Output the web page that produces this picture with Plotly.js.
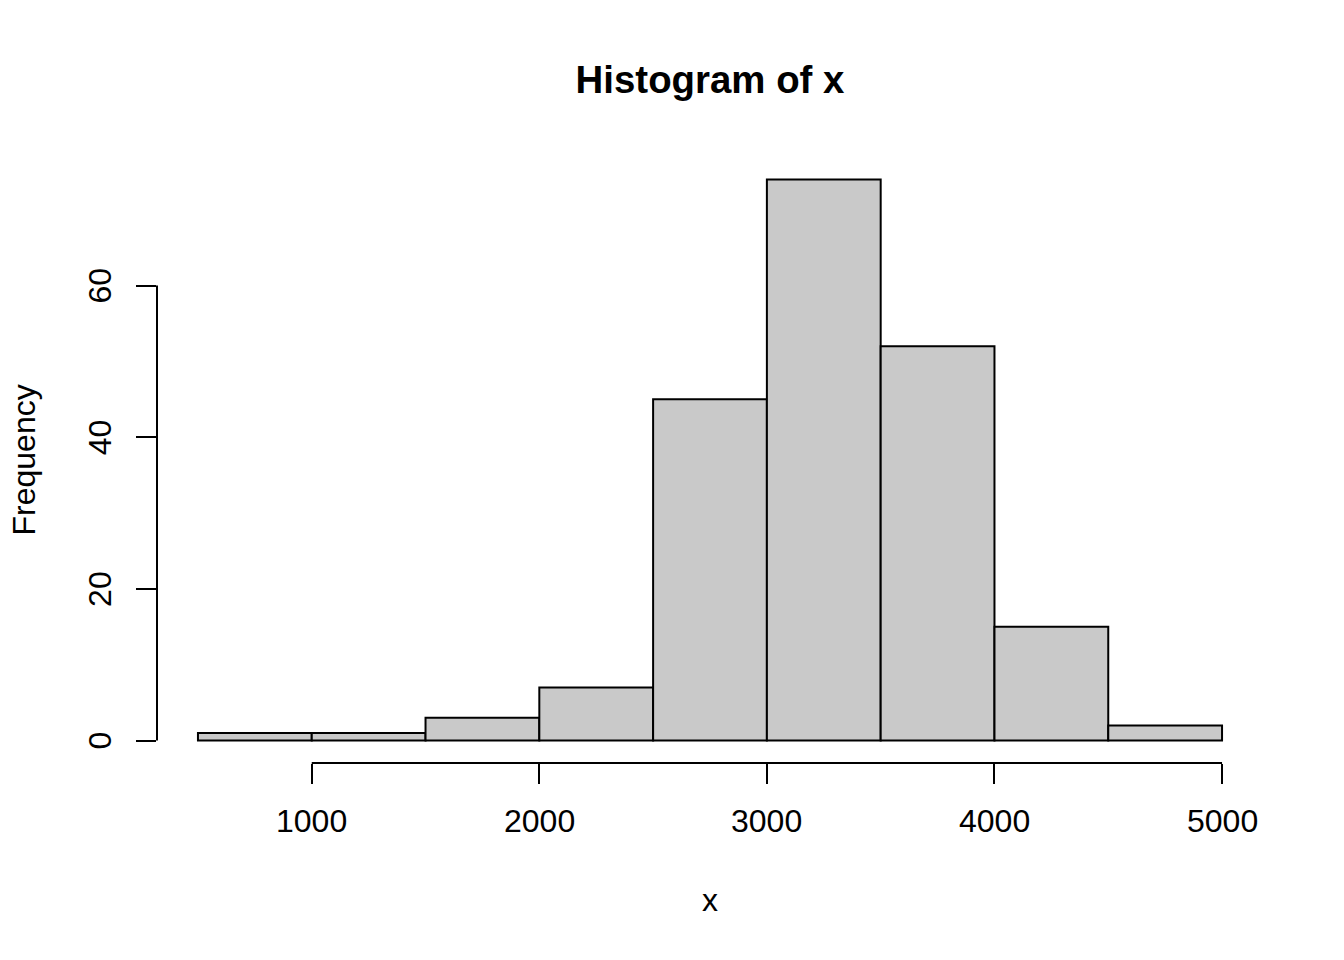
<!DOCTYPE html>
<html>
<head>
<meta charset="utf-8">
<script src="https://cdn.plot.ly/plotly-3.0.1.min.js"></script>
<style>html,body{margin:0;padding:0;background:#fff;}#plot{width:1344px;height:960px;}</style>
</head>
<body>
<div id="plot"></div>
<script>
// Histogram bins (breaks every 500) and counts
const binStarts = [500, 1000, 1500, 2000, 2500, 3000, 3500, 4000, 4500];
const binWidth = 500;
const counts = [1, 1, 3, 7, 45, 74, 52, 15, 2];
const xTicks = [1000, 2000, 3000, 4000, 5000];
const yTicks = [0, 20, 40, 60];

const mids = binStarts.map(s => s + binWidth / 2);
const FONT = '"Liberation Sans", Arial, Helvetica, sans-serif';
const PLOT_H = 960 - 157 - 197;
const PLOT_W = 1344 - 157 - 81;

const trace = {
  type: 'bar',
  x: mids,
  y: counts,
  width: binStarts.map(() => binWidth),
  marker: { color: '#C9C9C9', line: { color: '#000000', width: 2 } },
  hoverinfo: 'x+y'
};

const xr = [binStarts[0], binStarts[binStarts.length - 1] + binWidth];
const xpad = (xr[1] - xr[0]) * 0.04;
const yMax = Math.max(...counts);
const ypad = yMax * 0.04;

const tickFont = { family: FONT, size: 32, color: '#000' };

const annotations = [
  { text: 'x', xref: 'paper', yref: 'paper', x: 0.5, y: -(900 - 763) / PLOT_H,
    xanchor: 'center', yanchor: 'middle', showarrow: false, font: tickFont },
  { text: 'Frequency', xref: 'paper', yref: 'paper', x: (23.5 - 157) / PLOT_W, y: 0.5,
    xanchor: 'center', yanchor: 'middle', textangle: -90, showarrow: false, font: tickFont }
];
xTicks.forEach(v => annotations.push({
  text: String(v), xref: 'x', yref: 'paper', x: v, y: -(821 - 763) / PLOT_H,
  xanchor: 'center', yanchor: 'middle', showarrow: false, font: tickFont
}));
yTicks.forEach(v => annotations.push({
  text: String(v), xref: 'paper', yref: 'y', x: (100 - 157) / PLOT_W, y: v,
  xanchor: 'center', yanchor: 'middle', textangle: -90, showarrow: false, font: tickFont
}));

const layout = {
  width: 1344, height: 960,
  margin: { l: 157, r: 81, t: 157, b: 197, pad: 0 },
  paper_bgcolor: '#ffffff', plot_bgcolor: '#ffffff',
  font: { family: FONT, size: 32, color: '#000' },
  showlegend: false,
  bargap: 0,
  title: {
    text: '<b>Histogram of x</b>',
    font: { family: FONT, size: 38.4, color: '#000' },
    x: 0.5, xref: 'paper', xanchor: 'center',
    y: 1 - 80 / 960, yref: 'container', yanchor: 'middle'
  },
  xaxis: {
    range: [xr[0] - xpad, xr[1] + xpad],
    showgrid: false, zeroline: false, showline: false,
    tickmode: 'array', tickvals: xTicks,
    ticks: 'outside', ticklen: 20, tickwidth: 2, tickcolor: '#000',
    showticklabels: false,
    fixedrange: true
  },
  yaxis: {
    range: [-ypad, yMax + ypad],
    showgrid: false, zeroline: false, showline: false,
    tickmode: 'array', tickvals: yTicks,
    ticks: 'outside', ticklen: 20, tickwidth: 2, tickcolor: '#000',
    showticklabels: false,
    fixedrange: true
  },
  shapes: [
    { type: 'line', xref: 'x', yref: 'paper', x0: xTicks[0], x1: xTicks[xTicks.length - 1], y0: 0, y1: 0,
      line: { color: '#000', width: 2 } },
    { type: 'line', xref: 'paper', yref: 'y', x0: 0, x1: 0, y0: yTicks[0], y1: yTicks[yTicks.length - 1],
      line: { color: '#000', width: 2 } }
  ],
  annotations: annotations
};

Plotly.newPlot('plot', [trace], layout, { displayModeBar: false, staticPlot: true });
</script>
</body>
</html>
